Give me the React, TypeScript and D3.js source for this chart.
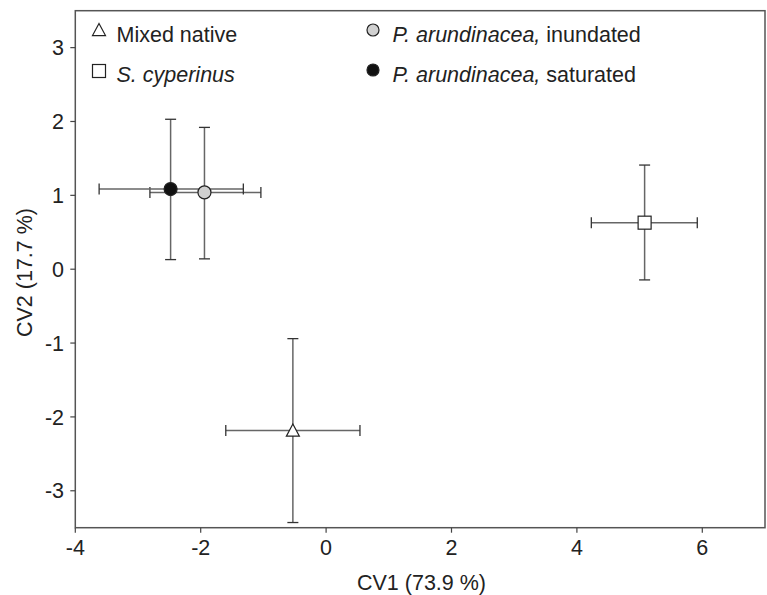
import React from "react";
import * as d3 from "d3";

const groups = ["Mixed native", "S. cyperinus", "P. arundinacea, inundated", "P. arundinacea, saturated"];
const symbols = ["triangle", "square", "circle", "circle"];
const fills = ["#ffffff", "#ffffff", "#d0d0d0", "#111111"];
const cv1Mean = [-0.53, 5.08, -1.94, -2.48];
const cv1Low = [-1.6, 4.23, -2.81, -3.62];
const cv1High = [0.54, 5.92, -1.04, -1.32];
const cv2Mean = [-2.185, 0.63, 1.04, 1.085];
const cv2Low = [-3.43, -0.145, 0.14, 0.13];
const cv2High = [-0.94, 1.41, 1.92, 2.03];
const xTicks = [-4, -2, 0, 2, 4, 6];
const yTicks = [-3, -2, -1, 0, 1, 2, 3];

const W = 767, H = 595;
const L = 75.3, R = 765, T = 10.7, B = 527.7;
const FONT = "'Liberation Sans', Arial, sans-serif";
const FS = 21.5;

function Marker({ kind, x, y, size, fill }: { kind: string; x: number; y: number; size: number; fill: string }) {
  if (kind === "circle") {
    return <circle cx={x} cy={y} r={size / 2} fill={fill} stroke="#222" strokeWidth={1.2} />;
  }
  if (kind === "square") {
    return <rect x={x - size / 2} y={y - size / 2} width={size} height={size} fill={fill} stroke="#222" strokeWidth={1.2} />;
  }
  const h = size * 0.85;
  const p = `M${x},${y - h / 2 - 1} L${x + size / 2},${y + h / 2} L${x - size / 2},${y + h / 2} Z`;
  return <path d={p} fill={fill} stroke="#222" strokeWidth={1.2} />;
}

export default function App() {
  const x = d3.scaleLinear().domain([-4, 7]).range([L, R]);
  const y = d3.scaleLinear().domain([-3.5, 3.5]).range([B, T]);
  const cap = 5.5;
  const legendPos = [
    { sx: 99, sy: 30, tx: 116.5, ty: 41.5 },
    { sx: 99, sy: 71, tx: 116.5, ty: 81.5 },
    { sx: 373, sy: 30, tx: 392.5, ty: 41.5 },
    { sx: 373, sy: 70, tx: 392.5, ty: 81.5 },
  ];
  const order = [0, 1, 2, 3];
  return (
    <svg width={W} height={H} style={{ position: "absolute", left: 0, top: 0 }} fontFamily={FONT}>
      <rect x={0} y={0} width={W} height={H} fill="#fff" />
      <rect x={L} y={T} width={R - L} height={B - T} fill="none" stroke="#555" strokeWidth={1.5} />
      {xTicks.map((t) => (
        <g key={"x" + t}>
          <line x1={x(t)} x2={x(t)} y1={B} y2={B + 5} stroke="#444" strokeWidth={1.2} />
          <text x={x(t)} y={555} textAnchor="middle" fontSize={FS} fill="#222">{t}</text>
        </g>
      ))}
      {yTicks.map((t) => (
        <g key={"y" + t}>
          <line x1={L - 5} x2={L} y1={y(t)} y2={y(t)} stroke="#444" strokeWidth={1.2} />
          <text x={64} y={y(t) + 7.7} textAnchor="end" fontSize={FS} fill="#222">{t}</text>
        </g>
      ))}
      <text x={421.5} y={590} textAnchor="middle" fontSize={FS} fill="#222">CV1 (73.9 %)</text>
      <text transform={`translate(31.5,272.5) rotate(-90)`} textAnchor="middle" fontSize={FS} fill="#222">CV2 (17.7 %)</text>
      {order.map((i) => {
        const cx = x(cv1Mean[i]);
        const cy = y(cv2Mean[i]);
        const x0 = x(cv1Low[i]), x1 = x(cv1High[i]);
        const y0 = y(cv2Low[i]), y1 = y(cv2High[i]);
        return (
          <g key={"e" + i}>
            <line x1={x0} x2={x1} y1={cy} y2={cy} stroke="#666" strokeWidth={1.5} />
            <line x1={x0} x2={x0} y1={cy - cap} y2={cy + cap} stroke="#333" strokeWidth={1.3} />
            <line x1={x1} x2={x1} y1={cy - cap} y2={cy + cap} stroke="#333" strokeWidth={1.3} />
            <line x1={cx} x2={cx} y1={y0} y2={y1} stroke="#666" strokeWidth={1.5} />
            <line x1={cx - cap} x2={cx + cap} y1={y0} y2={y0} stroke="#333" strokeWidth={1.3} />
            <line x1={cx - cap} x2={cx + cap} y1={y1} y2={y1} stroke="#333" strokeWidth={1.3} />
          </g>
        );
      })}
      {order.map((i) => (
        <Marker key={"m" + i} kind={symbols[i]} x={x(cv1Mean[i])} y={y(cv2Mean[i])} size={13} fill={fills[i]} />
      ))}
      {groups.map((g, i) => {
        const p = legendPos[i];
        const parts = g.split(", ");
        return (
          <g key={"l" + i}>
            <Marker kind={symbols[i]} x={p.sx} y={p.sy} size={i < 2 ? 13 : 12} fill={fills[i]} />
            <text x={p.tx} y={p.ty} fontSize={FS} fill="#222">
              {i === 0 ? (
                g
              ) : parts.length > 1 ? (
                <>
                  <tspan fontStyle="italic">{parts[0] + ","}</tspan>
                  <tspan>{" " + parts[1]}</tspan>
                </>
              ) : (
                <tspan fontStyle="italic">{g}</tspan>
              )}
            </text>
          </g>
        );
      })}
    </svg>
  );
}
